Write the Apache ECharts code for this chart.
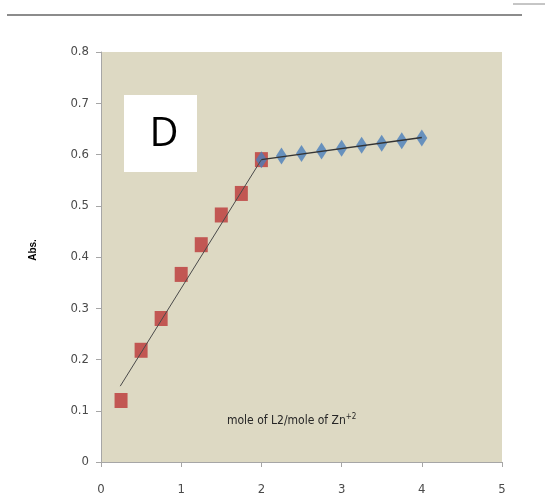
<!DOCTYPE html>
<html>
<head>
<meta charset="utf-8">
<script src="https://cdn.jsdelivr.net/npm/echarts@6/dist/echarts.min.js"></script>
<style>
  html, body { margin: 0; padding: 0; background: #fff; }
  #chart { width: 545px; height: 503px; }
</style>
</head>
<body>
<div id="chart"></div>
<script>
// ratio of L2 to Zn+2 (x) and absorbance (y)
const risingX = [0.25, 0.5, 0.75, 1.0, 1.25, 1.5, 1.75, 2.0];
const risingY = [0.12, 0.218, 0.28, 0.366, 0.424, 0.482, 0.524, 0.59];
const plateauX = [2.0, 2.25, 2.5, 2.75, 3.0, 3.25, 3.5, 3.75, 4.0];
const plateauY = [0.59, 0.597, 0.602, 0.607, 0.612, 0.618, 0.622, 0.627, 0.632];
// straight fitted lines
const fit1X = [0.24, 2.0];
const fit1Y = [0.148, 0.59];
const fit2X = [2.0, 4.0];
const fit2Y = [0.59, 0.633];

const zip = (xs, ys) => xs.map((x, i) => [x, ys[i]]);

const chart = echarts.init(document.getElementById('chart'));
const labelFont = '"Liberation Sans Narrow", "DejaVu Sans Condensed", sans-serif';

chart.setOption({
  animation: false,
  grid: {
    left: 101, top: 52, right: 43, bottom: 41,
    show: true,
    backgroundColor: '#ddd9c3',
    borderWidth: 0
  },
  xAxis: {
    type: 'value',
    min: 0, max: 5, interval: 1,
    axisLine: { show: true, lineStyle: { color: '#a6a6a6', width: 1 } },
    axisTick: { show: true, length: 5, lineStyle: { color: '#a6a6a6' } },
    splitLine: { show: false },
    axisLabel: { margin: 21, color: '#4a4a4a', fontSize: 13, fontFamily: labelFont }
  },
  yAxis: {
    type: 'value',
    min: 0, max: 0.8, interval: 0.1,
    axisLine: { show: true, lineStyle: { color: '#a6a6a6', width: 1 } },
    axisTick: { show: true, length: 5, lineStyle: { color: '#a6a6a6' } },
    splitLine: { show: false },
    axisLabel: {
      margin: 12, color: '#4a4a4a', fontSize: 13, fontFamily: labelFont,
      formatter: v => (v === 0 ? '0' : String(+v.toFixed(1)))
    }
  },
  series: [
    {
      type: 'scatter',
      data: zip(risingX, risingY),
      symbol: 'rect',
      symbolSize: [13, 15],
      itemStyle: { color: '#c0504d', opacity: 0.95 },
      z: 2
    },
    {
      type: 'scatter',
      data: zip(plateauX, plateauY),
      symbol: 'diamond',
      symbolSize: [11, 17],
      itemStyle: { color: '#4a7ebb' },
      z: 3
    },
    {
      type: 'line',
      data: zip(fit1X, fit1Y),
      showSymbol: false,
      lineStyle: { color: '#4a4a4a', width: 1 },
      z: 4
    },
    {
      type: 'line',
      data: zip(fit2X, fit2Y),
      showSymbol: false,
      lineStyle: { color: '#333333', width: 1.5 },
      z: 4
    }
  ],
  graphic: [
    // rule across the top of the page
    { type: 'line', shape: { x1: 7, y1: 15, x2: 522, y2: 15 }, style: { stroke: '#8c8c8c', lineWidth: 2 } },
    { type: 'line', shape: { x1: 513, y1: 4, x2: 545, y2: 4 }, style: { stroke: '#8c8c8c', lineWidth: 1 } },
    // panel letter
    { type: 'rect', shape: { x: 124, y: 95, width: 73, height: 77 }, style: { fill: '#ffffff' }, z: 10 },
    {
      type: 'text', x: 164, y: 135, z: 11,
      style: {
        text: 'D', fill: '#000', font: '40px "Open Sans", "Liberation Sans", sans-serif',
        align: 'center', verticalAlign: 'middle'
      }
    },
    {
      type: 'text', x: 33, y: 250, rotation: Math.PI / 2, z: 11,
      style: {
        text: 'Abs.', fill: '#000', font: 'bold 10px "Liberation Sans", sans-serif',
        align: 'center', verticalAlign: 'middle'
      }
    },
    {
      type: 'text', x: 227, y: 421, z: 11,
      style: {
        text: 'mole of L2/mole of Zn{sup|+2}',
        rich: { sup: { fontSize: 8, verticalAlign: 'top', padding: [0, 0, 8, 0], fill: '#262626', fontFamily: labelFont } },
        fill: '#262626', fontSize: 12, fontFamily: labelFont,
        verticalAlign: 'middle'
      }
    }
  ]
});
</script>
</body>
</html>
